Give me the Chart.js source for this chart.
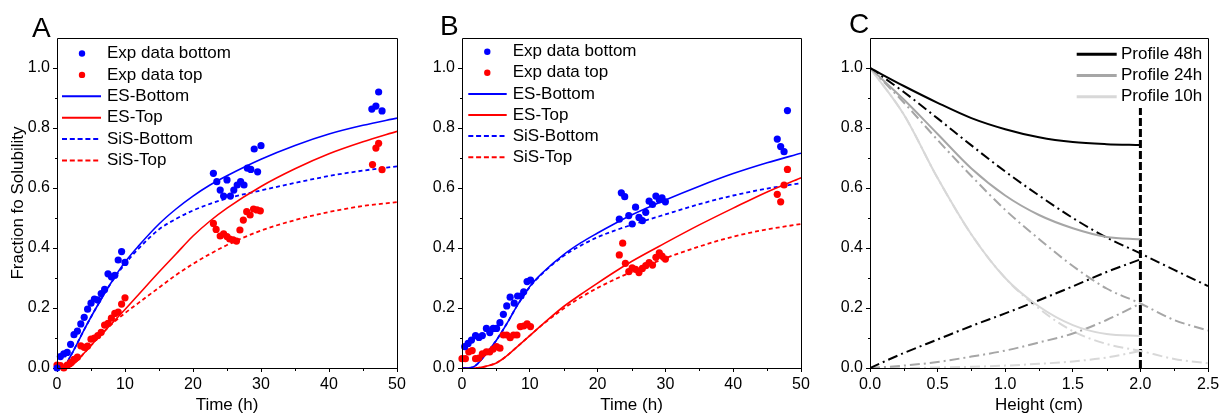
<!DOCTYPE html>
<html><head><meta charset="utf-8">
<script src="https://cdn.jsdelivr.net/npm/chart.js@4"></script>
<style>
html,body{margin:0;padding:0;background:#fff;}
#wrap{position:relative;width:1223px;height:414px;overflow:hidden;background:#fff;}
canvas{position:absolute;top:0;}
</style></head><body>
<div id="wrap">
<canvas id="cA" width="410" height="414" style="left:0px;width:410px;height:414px"></canvas>
<canvas id="cB" width="405" height="414" style="left:410px;width:405px;height:414px"></canvas>
<canvas id="cC" width="408" height="414" style="left:815px;width:408px;height:414px"></canvas>
</div>
<script>
// ---------- tick labels ----------
const yTickVals = [0, 0.2, 0.4, 0.6, 0.8, 1.0];
const yTickLabels = ['0.0', '0.2', '0.4', '0.6', '0.8', '1.0'];
const yMinorVals = [0.1, 0.3, 0.5, 0.7, 0.9];
const tTickVals = [0, 10, 20, 30, 40, 50];
const tTickLabels = ['0', '10', '20', '30', '40', '50'];
const tMinorVals = [5, 15, 25, 35, 45];
const hTickVals = [0, 0.5, 1.0, 1.5, 2.0, 2.5];
const hTickLabels = ['0.0', '0.5', '1.0', '1.5', '2.0', '2.5'];
const hMinorVals = [0.25, 0.75, 1.25, 1.75, 2.25];
const panelLabels = ['A', 'B', 'C'];

// ---------- Panel A: experimental data ----------
const expBottomA_t = [0,0.5,1,1.5,2,2.5,3,3.5,4,4.5,5,5.5,6,6.5,7,7.5,8,8.5,9,9.5,10,
  23,23.5,24,24.5,25,25.5,26,26.5,27,27.5,28,28.5,29,29.5,30,
  46.3,46.9,47.3,47.8];
const expBottomA_v = [0,0.038,0.047,0.052,0.079,0.111,0.123,0.147,0.169,0.196,0.216,0.23,0.227,0.248,0.262,0.314,0.304,0.309,0.36,0.388,0.352,
  0.649,0.621,0.593,0.573,0.627,0.573,0.593,0.61,0.621,0.61,0.666,0.662,0.73,0.654,0.741,
  0.863,0.873,0.92,0.857];
const expTopA_t = [0,0.5,1,1.5,2,2.5,3,3.5,4,4.5,5,5.5,6,6.5,7,7.5,8,8.5,9,9.5,10,
  23,23.4,24,24.5,25,25.4,25.9,26.4,26.9,27.4,27.9,28.4,28.9,29.4,29.9,
  46.4,46.9,47.3,47.8];
const expTopA_v = [0.01,0.008,0.0,0.01,0.018,0.029,0.036,0.074,0.069,0.073,0.096,0.1,0.108,0.119,0.143,0.149,0.166,0.182,0.186,0.213,0.234,
  0.482,0.462,0.44,0.447,0.438,0.43,0.427,0.423,0.46,0.493,0.521,0.51,0.53,0.527,0.524,
  0.678,0.733,0.749,0.661];
// ---------- model time grid ----------
const tModel = [0,1,2,3,4,5,6,7,8,10,12,15,17.5,20,22.5,25,30,35,40,45,50];
// ---------- Panel A: model curves ----------
const esBottomA = [0,0.003,0.04,0.083,0.128,0.17,0.21,0.249,0.286,0.353,0.407,0.48,0.53,0.573,0.61,0.641,0.696,0.742,0.78,0.809,0.833];
const esTopA    = [0,0,0.005,0.025,0.05,0.075,0.1,0.123,0.147,0.195,0.245,0.32,0.38,0.44,0.49,0.533,0.605,0.664,0.714,0.754,0.789];
const sisBottomA= [0,0.003,0.04,0.083,0.128,0.17,0.21,0.249,0.285,0.347,0.398,0.462,0.497,0.525,0.547,0.565,0.592,0.617,0.64,0.658,0.672];
const sisTopA   = [0,0,0.005,0.025,0.05,0.075,0.1,0.123,0.145,0.183,0.217,0.268,0.31,0.347,0.38,0.41,0.458,0.493,0.52,0.54,0.553];

// ---------- Panel B: experimental data ----------
const expBottomB_t = [0.4,0.9,1.4,2.0,2.5,3.0,3.6,4.1,4.6,5.1,5.6,6.1,6.6,7.1,7.7,8.2,8.7,9.1,9.6,10.1,
  23.2,23.5,24.0,24.6,25.1,25.6,26.1,26.6,27.1,27.6,28.1,28.6,29.1,29.5,30.0,
  46.5,47.0,47.5,48.0];
const expBottomB_v = [0.071,0.082,0.093,0.108,0.102,0.108,0.132,0.118,0.132,0.132,0.151,0.179,0.207,0.236,0.216,0.24,0.24,0.254,0.288,0.293,
  0.496,0.584,0.571,0.508,0.48,0.536,0.502,0.491,0.519,0.556,0.545,0.573,0.56,0.567,0.554,
  0.763,0.738,0.721,0.858];
const expTopB_t = [0,0.5,1.0,1.5,2.0,2.5,3.0,3.6,4.1,4.6,5.1,5.6,6.1,6.6,7.1,7.6,8.1,8.6,9.1,9.6,10.1,
  23.2,23.7,24.1,24.6,25.1,25.6,26.1,26.6,27.1,27.6,28.1,28.6,29.1,29.5,30.0,
  46.5,47.0,47.5,48.0];
const expTopB_v = [0.031,0.031,0.054,0.058,0.031,0.033,0.047,0.054,0.054,0.063,0.071,0.066,0.11,0.11,0.101,0.11,0.11,0.138,0.14,0.147,0.138,
  0.377,0.416,0.349,0.321,0.334,0.329,0.318,0.332,0.341,0.351,0.343,0.369,0.384,0.373,0.363,
  0.579,0.554,0.61,0.662];
// ---------- Panel B: model curves ----------
const esBottomB = [0,0,0.008,0.032,0.06,0.09,0.125,0.163,0.203,0.272,0.32,0.378,0.417,0.45,0.481,0.51,0.56,0.606,0.648,0.684,0.716];
const esTopB    = [0,0,0,0.003,0.008,0.016,0.03,0.048,0.068,0.108,0.148,0.205,0.245,0.283,0.32,0.355,0.417,0.477,0.533,0.587,0.634];
const sisBottomB= [0,0,0.008,0.032,0.06,0.09,0.125,0.163,0.203,0.27,0.318,0.374,0.408,0.436,0.458,0.477,0.512,0.546,0.575,0.598,0.616];
const sisTopB   = [0,0,0,0.003,0.008,0.016,0.03,0.048,0.068,0.108,0.147,0.198,0.235,0.267,0.295,0.32,0.366,0.405,0.438,0.462,0.48];

// ---------- Panel C: profiles ----------
const hIn  = [0,0.25,0.5,0.75,1.0,1.25,1.5,1.75,2.0];
const hAll = [0,0.25,0.5,0.75,1.0,1.25,1.5,1.75,2.0,2.25,2.5];
const prof48 = [1,0.94,0.884,0.833,0.796,0.769,0.753,0.746,0.743];
const prof24 = [1,0.895,0.78,0.665,0.575,0.51,0.466,0.437,0.429];
const prof10 = [1,0.845,0.633,0.445,0.3,0.205,0.143,0.113,0.107];
const dd48down = [1,0.92,0.832,0.742,0.655,0.575,0.5,0.435,0.382,0.327,0.273];
const dd48up   = [0,0.05,0.095,0.14,0.182,0.226,0.272,0.32,0.362];
const dd24down = [1,0.885,0.76,0.64,0.527,0.43,0.34,0.265,0.215,0.16,0.125];
const dd24up   = [0,0.008,0.02,0.038,0.058,0.085,0.115,0.16,0.215];
const dd10down = [1,0.845,0.633,0.445,0.3,0.198,0.123,0.08,0.057,0.03,0.016];
const dd10up   = [0,0,0.002,0.004,0.008,0.014,0.022,0.035,0.057];
const boundaryX = [2.0, 2.0];
const boundaryY = [0, 0.867];

// ---------- helpers ----------
const FONT = "'Liberation Sans', Arial, Helvetica, sans-serif";
Chart.defaults.font.family = FONT;
Chart.defaults.color = '#000';
const pts = (xs, ys) => xs.map((x, i) => ({x: x, y: ys[i]}));
const BLUE = '#0000ff', RED = '#ff0000', BLACK = '#000000', GRAY = '#a6a6a6', LGRAY = '#d8d8d8';
const DASH_DOT = [10, 4, 2, 4];

function ptsDS(label, xs, ys, color) {
  return {label, data: pts(xs, ys), showLine: false, pointRadius: 3.6, pointHoverRadius: 3.6,
    pointBackgroundColor: color, pointBorderColor: color, pointBorderWidth: 0,
    backgroundColor: color, borderColor: color, clip: false, inLegend: true};
}
function lineDS(label, xs, ys, color, dash, width, inLegend, legDash) {
  return {label, data: pts(xs, ys), showLine: true, pointRadius: 0, pointHoverRadius: 0,
    borderColor: color, backgroundColor: color, borderWidth: width, borderDash: dash,
    cubicInterpolationMode: 'monotone', fill: false, inLegend: !!inLegend, legDash: legDash || dash};
}

const decor = {
  id: 'decor',
  afterDraw(chart, args, o) {
    const ctx = chart.ctx, a = chart.chartArea, xs = chart.scales.x, ys = chart.scales.y;
    ctx.save();
    ctx.strokeStyle = '#000'; ctx.lineWidth = 1; ctx.setLineDash([]);
    const L = Math.round(a.left) + 0.5, T = Math.round(a.top) + 0.5;
    const R = Math.round(a.right) + 0.5, B = Math.round(a.bottom) + 0.5;
    ctx.beginPath();
    ctx.moveTo(L, T); ctx.lineTo(R, T); ctx.lineTo(R, B); ctx.lineTo(L, B); ctx.closePath();
    ctx.stroke();
    ctx.beginPath();
    o.xMinor.forEach(v => { const p = Math.round(xs.getPixelForValue(v)) + 0.5; ctx.moveTo(p, B); ctx.lineTo(p, B + 2.5); });
    o.yMinor.forEach(v => { const p = Math.round(ys.getPixelForValue(v)) + 0.5; ctx.moveTo(L, p); ctx.lineTo(L - 2.5, p); });
    ctx.stroke();
    // panel letter
    ctx.fillStyle = '#000';
    ctx.font = '28px ' + FONT; ctx.textAlign = 'left'; ctx.textBaseline = 'alphabetic';
    ctx.fillText(o.letter, o.letterX, o.letterY);
    // legend
    const items = chart.data.datasets.filter(d => d.inLegend);
    ctx.font = '17px ' + FONT; ctx.textBaseline = 'middle';
    items.forEach((d, i) => {
      const y = o.legY + i * o.legRow;
      if (d.showLine === false) {
        ctx.fillStyle = d.backgroundColor;
        ctx.beginPath(); ctx.arc(o.legMarkX, y, 3.2, 0, Math.PI * 2); ctx.fill();
      } else {
        ctx.strokeStyle = d.borderColor; ctx.lineWidth = o.legLineW;
        ctx.setLineDash(d.legDash || []);
        ctx.beginPath(); ctx.moveTo(o.legX0, y); ctx.lineTo(o.legX1, y); ctx.stroke();
        ctx.setLineDash([]);
      }
      ctx.fillStyle = '#000';
      ctx.fillText(d.label, o.legTextX, y);
    });
    ctx.restore();
  }
};

function makeScales(xMax, xTicks, xLabels, xTitle, yW, yTitle) {
  const tickFont = {size: 16, family: FONT};
  const yScale = {
    type: 'linear', position: 'left', min: 0, max: 1.1,
    afterBuildTicks: s => { s.ticks = yTickVals.map(v => ({value: v})); },
    afterFit: s => { s.width = yW; },
    ticks: {font: tickFont, color: '#000', padding: 3, callback: (v, i) => yTickLabels[i]},
    grid: {display: true, drawOnChartArea: false, drawTicks: true, tickLength: 4, tickColor: '#000', tickWidth: 1},
    border: {display: false},
    title: {display: !!yTitle, text: yTitle || '', font: {size: 17, family: FONT, lineHeight: 1}, color: '#000', padding: {top: 10, bottom: 0}}
  };
  const xScale = {
    type: 'linear', position: 'bottom', min: 0, max: xMax,
    afterBuildTicks: s => { s.ticks = xTicks.map(v => ({value: v})); },
    afterFit: s => { s.height = 46; },
    ticks: {font: tickFont, color: '#000', padding: 3, maxRotation: 0, autoSkip: false, callback: (v, i) => xLabels[i]},
    grid: {display: true, drawOnChartArea: false, drawTicks: true, tickLength: 4, tickColor: '#000', tickWidth: 1},
    border: {display: false},
    title: {display: true, text: xTitle, font: {size: 17, family: FONT, lineHeight: 1}, color: '#000', padding: {top: 0, bottom: 0}}
  };
  return {x: xScale, y: yScale};
}

function baseOptions(scales, padRight, decorOpts) {
  return {
    responsive: false, animation: false, devicePixelRatio: 1,
    layout: {padding: {left: 0, right: padRight, top: 38, bottom: 0}, autoPadding: false},
    scales: scales,
    plugins: {legend: {display: false}, tooltip: {enabled: false}, decor: decorOpts},
    events: []
  };
}

const LEG_DOT = [5, 2.8];

// ---------- Panel A ----------
new Chart(document.getElementById('cA'), {
  type: 'scatter',
  data: {datasets: [
    ptsDS('Exp data bottom', expBottomA_t, expBottomA_v, BLUE),
    ptsDS('Exp data top', expTopA_t, expTopA_v, RED),
    lineDS('ES-Bottom', tModel, esBottomA, BLUE, [], 1.6, true),
    lineDS('ES-Top', tModel, esTopA, RED, [], 1.6, true),
    lineDS('SiS-Bottom', tModel, sisBottomA, BLUE, [4, 3], 1.8, true, LEG_DOT),
    lineDS('SiS-Top', tModel, sisTopA, RED, [4, 3], 1.8, true, LEG_DOT)
  ]},
  options: baseOptions(makeScales(50, tTickVals, tTickLabels, 'Time (h)', 57, 'Fraction fo Solubility'), 13,
    {xMinor: tMinorVals, yMinor: yMinorVals, letter: panelLabels[0], letterX: 32, letterY: 37,
     legY: 53.5, legRow: 21.4, legMarkX: 82, legX0: 62, legX1: 101, legTextX: 107, legLineW: 2}),
  plugins: [decor]
});

// ---------- Panel B ----------
new Chart(document.getElementById('cB'), {
  type: 'scatter',
  data: {datasets: [
    ptsDS('Exp data bottom', expBottomB_t, expBottomB_v, BLUE),
    ptsDS('Exp data top', expTopB_t, expTopB_v, RED),
    lineDS('ES-Bottom', tModel, esBottomB, BLUE, [], 1.6, true),
    lineDS('ES-Top', tModel, esTopB, RED, [], 1.6, true),
    lineDS('SiS-Bottom', tModel, sisBottomB, BLUE, [4, 3], 1.8, true, LEG_DOT),
    lineDS('SiS-Top', tModel, sisTopB, RED, [4, 3], 1.8, true, LEG_DOT)
  ]},
  options: baseOptions(makeScales(50, tTickVals, tTickLabels, 'Time (h)', 52, ''), 14,
    {xMinor: tMinorVals, yMinor: yMinorVals, letter: panelLabels[1], letterX: 30, letterY: 35,
     legY: 51.7, legRow: 21.1, legMarkX: 77.3, legX0: 58.3, legX1: 96.7, legTextX: 102.7, legLineW: 2}),
  plugins: [decor]
});

// ---------- Panel C ----------
new Chart(document.getElementById('cC'), {
  type: 'scatter',
  data: {datasets: [
    lineDS('Profile 48h', hIn, prof48, BLACK, [], 2, true),
    lineDS('Profile 24h', hIn, prof24, GRAY, [], 2, true),
    lineDS('Profile 10h', hIn, prof10, LGRAY, [], 2, true),
    lineDS('48h down', hAll, dd48down, BLACK, DASH_DOT, 2, false),
    lineDS('48h up', hIn, dd48up, BLACK, DASH_DOT, 2, false),
    lineDS('24h down', hAll, dd24down, GRAY, DASH_DOT, 2, false),
    lineDS('24h up', hIn, dd24up, GRAY, DASH_DOT, 2, false),
    lineDS('10h down', hAll, dd10down, LGRAY, DASH_DOT, 2, false),
    lineDS('10h up', hIn, dd10up, LGRAY, DASH_DOT, 2, false),
    Object.assign(lineDS('boundary', boundaryX, boundaryY, BLACK, [8, 3], 3, false), {cubicInterpolationMode: 'default', tension: 0})
  ]},
  options: baseOptions(makeScales(2.5, hTickVals, hTickLabels, 'Height (cm)', 55, ''), 15,
    {xMinor: hMinorVals, yMinor: yMinorVals, letter: panelLabels[2], letterX: 34, letterY: 33,
     legY: 54.3, legRow: 21.2, legMarkX: 0, legX0: 261.7, legX1: 301.7, legTextX: 306, legLineW: 3}),
  plugins: [decor]
});
</script>
</body></html>
